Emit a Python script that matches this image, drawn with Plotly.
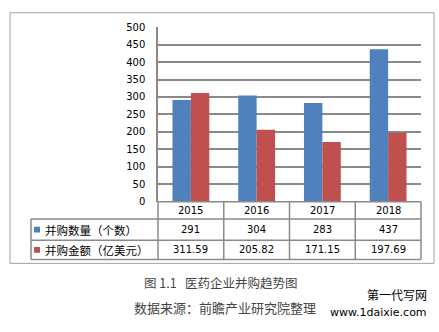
import plotly.graph_objects as go

years = ["2015", "2016", "2017", "2018"]
deal_count = [291, 304, 283, 437]
deal_value = [311.59, 205.82, 171.15, 197.69]
count_label = "并购数量（个数）"
value_label = "并购金额（亿美元）"
count_text = ["291", "304", "283", "437"]
value_text = ["311.59", "205.82", "171.15", "197.69"]
y_ticks = [0, 50, 100, 150, 200, 250, 300, 350, 400, 450, 500]

W, H = 439, 332
BLUE = "#4F81BD"
RED = "#C0504D"
GRID = "#8a8a8a"

def px(x):
    return x / W

def py(y):
    return 1 - y / H

fig = go.Figure()
fig.add_trace(go.Bar(x=years, y=deal_count, name=count_label, marker=dict(color=BLUE, line=dict(width=0))))
fig.add_trace(go.Bar(x=years, y=deal_value, name=value_label, marker=dict(color=RED, line=dict(width=0))))

x0, x1 = 158, 421
y_top, y_zero = 22, 203
fig.update_layout(
    width=W, height=H, margin=dict(l=0, r=0, t=0, b=0, pad=0),
    paper_bgcolor="white", plot_bgcolor="white",
    showlegend=False, barmode="group", bargap=0.44, bargroupgap=0,
    font=dict(family="DejaVu Sans", size=10, color="#000"),
    xaxis=dict(domain=[px(x0), px(x1)], type="category", range=[-0.5, 3.5],
               showticklabels=False, showgrid=False, zeroline=False, showline=False, fixedrange=True),
    yaxis=dict(domain=[py(y_zero), py(y_top)], range=[0, 500], tickvals=y_ticks,
               showgrid=True, gridcolor=GRID, gridwidth=1.5, zeroline=False,
               showline=True, linecolor=GRID, linewidth=1.5,
               ticks="outside", ticklen=9, tickcolor="rgba(0,0,0,0)",
               tickfont=dict(family="DejaVu Sans", size=10, color="#000")),
)

shapes = []
def line(xa, ya, xb, yb, color=GRID, w=1.5):
    shapes.append(dict(type="line", xref="paper", yref="paper", x0=px(xa), y0=py(ya), x1=px(xb), y1=py(yb),
                       line=dict(color=color, width=w)))

# outer frame
shapes.append(dict(type="rect", xref="paper", yref="paper", x0=px(10), y0=py(267), x1=px(434), y1=py(7),
                   line=dict(color="#a0a0a0", width=1)))
# table
r0, r1, r2, r3 = 203, 221, 243, 263
tx0 = 31
line(x0, r0, x1, r0)
line(tx0, r1, x1, r1)
line(tx0, r2, x1, r2)
line(tx0, r3, x1, r3)
line(tx0, r1, tx0, r3)
colw = (x1 - x0) / len(years)
for i in range(len(years) + 1):
    xx = x0 + i * colw
    line(xx, r0, xx, r3)
# legend keys
for yy, c in [((r1 + r2) / 2, BLUE), ((r2 + r3) / 2, RED)]:
    shapes.append(dict(type="rect", xref="paper", yref="paper", x0=px(34), x1=px(40), y0=py(yy + 3), y1=py(yy - 3),
                       fillcolor=c, line=dict(width=0)))
fig.update_layout(shapes=shapes)

ann = []
def cell(i, yy, txt):
    ann.append(dict(x=i, xref="x", y=py(yy), yref="paper", yanchor="middle", text=txt, showarrow=False,
                    font=dict(size=10, family="DejaVu Sans")))
for i, yr in enumerate(years):
    cell(i, (r0 + r1) / 2, yr)
    cell(i, (r1 + r2) / 2, count_text[i])
    cell(i, (r2 + r3) / 2, value_text[i])
for lab, yy in [(count_label, (r1 + r2) / 2), (value_label, (r2 + r3) / 2)]:
    ann.append(dict(x=px(43), xref="paper", xanchor="left", y=py(yy), yref="paper", yanchor="middle",
                    text=lab, showarrow=False, font=dict(size=11.5, family="Noto Sans CJK SC")))
ann.append(dict(x=px(221), xref="paper", y=py(287), yref="paper", yanchor="middle", text="图 1.1   医药企业并购趋势图",
                showarrow=False, font=dict(size=12.5, family="Noto Sans CJK SC", color="#444")))
ann.append(dict(x=px(225), xref="paper", y=py(313), yref="paper", yanchor="middle", text="数据来源：前瞻产业研究院整理",
                showarrow=False, font=dict(size=13, family="Noto Sans CJK SC", color="#444")))
ann.append(dict(x=px(428), xref="paper", xanchor="right", y=py(309), yref="paper", yanchor="bottom", text="第一代写网",
                showarrow=False, borderpad=0, font=dict(size=12, family="Noto Sans CJK SC", color="#000")))
ann.append(dict(x=px(428), xref="paper", xanchor="right", y=py(310), yref="paper", yanchor="top", text="www.1daixie.com",
                showarrow=False, borderpad=0, font=dict(size=11, family="DejaVu Sans", color="#000")))
fig.update_layout(annotations=ann)

fig.write_html("out.html")
